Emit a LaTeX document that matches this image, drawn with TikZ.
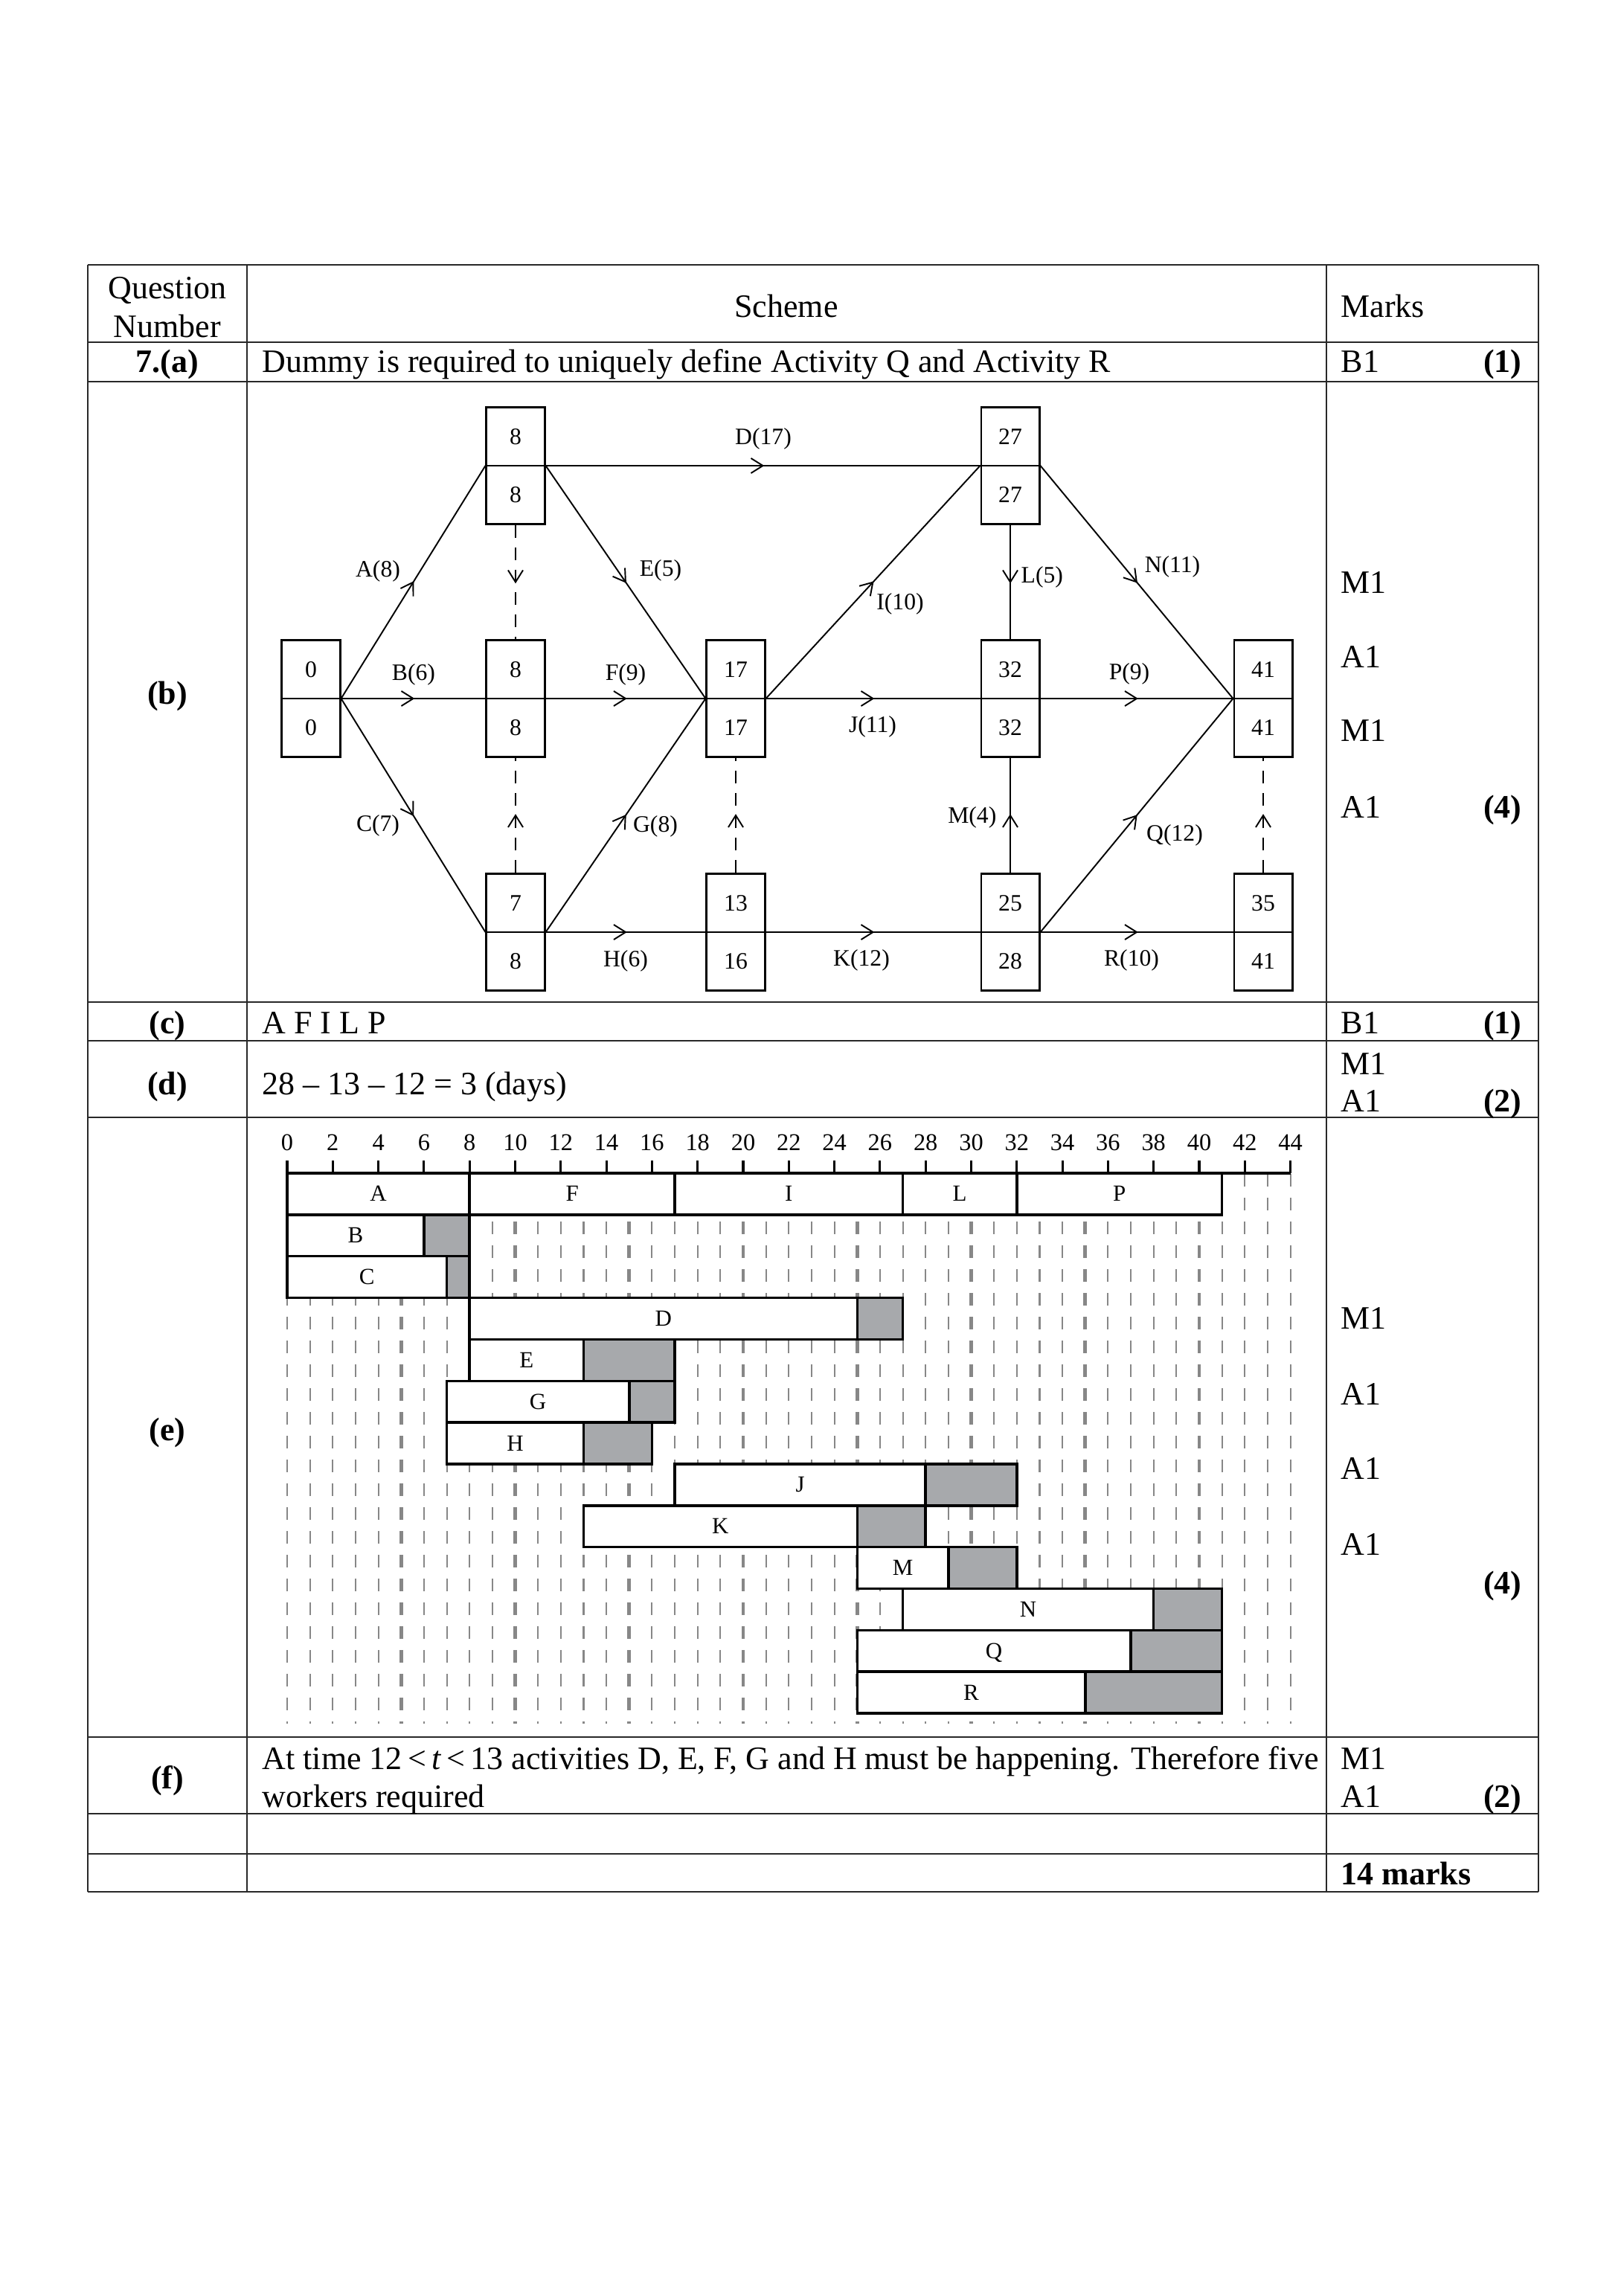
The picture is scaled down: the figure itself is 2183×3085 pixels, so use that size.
\documentclass[tikz,border=0pt]{standalone}
\usepackage{fontspec}
\setmainfont{Liberation Serif}
\usetikzlibrary{decorations.markings}
\definecolor{ganttgray}{RGB}{167,169,172}
\definecolor{gridgray}{RGB}{135,135,135}
\definecolor{inkgray}{RGB}{40,40,40}

% event box: name, x, y (centre), top number, bottom number
\newcommand{\evbox}[5]{%
  \node[evbox] (#1) at (#2,#3) {};
  \draw[hact] (#1.west) -- (#1.east);
  \node[evnum] (#1t) at (#2,{#3-39}) {#4};
  \node[evnum] (#1b) at (#2,{#3+39}) {#5};
}
% gantt bar: row, start, end, float end, label
\newcommand{\gbar}[5]{%
  \filldraw[barline,fill=white] ({386+30.65*#2},{1577+55.85*#1}) rectangle ({386+30.65*#3},{1577+55.85*(#1+1)});
  \filldraw[barline,fill=ganttgray] ({386+30.65*#3},{1577+55.85*#1}) rectangle ({386+30.65*#4},{1577+55.85*(#1+1)});
  \node[glab] (g#5) at ({386+30.65*(#2+#3)/2},{1577+55.85*(#1+0.5)+10}) {#5};
}

\begin{document}
\begin{tikzpicture}[x=0.01cm,y=-0.01cm,
  tabline/.style={line width=0.7pt,draw=inkgray},
  ttxt/.style={inner sep=0pt,font=\fontsize{12.5}{15}\selectfont},
  tbold/.style={inner sep=0pt,font=\fontsize{12.5}{15}\selectfont\bfseries},
  evbox/.style={draw,line width=0.85pt,minimum width=0.78cm,minimum height=1.56cm,inner sep=0pt},
  evnum/.style={inner sep=0pt,font=\fontsize{9}{10}\selectfont},
  elab/.style={inner sep=0pt,font=\fontsize{9}{10}\selectfont},
  act/.style={line width=0.55pt},
  hact/.style={line width=0.8pt},
  dummy/.style={line width=0.55pt,dash pattern=on 0.17cm off 0.13cm},
  midarrow/.style={postaction={decorate},decoration={markings,mark=at position #1 with {\draw[solid,line width=0.55pt] (-0.16cm,0.1cm) -- (0,0) -- (-0.16cm,-0.1cm);}}},
  midarrow/.default=0.5,
  barline/.style={line width=1pt,draw=black},
  glab/.style={inner sep=0pt,font=\fontsize{8.8}{10}\selectfont,anchor=base},
  gtick/.style={inner sep=0pt,font=\fontsize{9.2}{10}\selectfont,anchor=base},
  gridthin/.style={draw=gridgray,line width=0.6pt,dash pattern=on 0.17cm off 0.15cm},
  gridthick/.style={draw=gridgray,line width=1.3pt,dash pattern=on 0.17cm off 0.15cm},
]
\fill[white] (0,0) rectangle (2183,3085);
\useasboundingbox (0,0) rectangle (2183,3085);

% ---------------- table ----------------
\foreach \yy in {356,460,513,1347,1399,1502,2335,2438,2492,2543}
  \draw[tabline] (118,\yy) -- (2068,\yy);
\foreach \xx in {118,332,1783,2068}
  \draw[tabline] (\xx,356) -- (\xx,2543);

% header
\node[ttxt,anchor=base] (hq1) at (225,402) {Question};
\node[ttxt,anchor=base] (hq2) at (225,453) {Number};
\node[ttxt,anchor=base] (hs) at (1057,426) {Scheme};
\node[ttxt,anchor=base west] (hm) at (1802,426) {Marks};

% (a)
\node[tbold,anchor=base] (qa) at (225,501) {7.(a)};
\node[ttxt,anchor=base west] (sa) at (352,501) {Dummy is required to uniquely define Activity Q and Activity R};
\node[ttxt,anchor=base west] (ma) at (1802,501) {B1};
\node[tbold,anchor=base east] (ta) at (2046,501) {(1)};

% (b)
\node[tbold,anchor=base] (qb) at (225,946) {(b)};
\node[ttxt,anchor=base west] (mb1) at (1802,797) {M1};
\node[ttxt,anchor=base west] (mb2) at (1802,897) {A1};
\node[ttxt,anchor=base west] (mb3) at (1802,996) {M1};
\node[ttxt,anchor=base west] (mb4) at (1802,1099) {A1};
\node[tbold,anchor=base east] (tb) at (2046,1099) {(4)};

% (c)
\node[tbold,anchor=base] (qc) at (225,1389) {(c)};
\node[ttxt,anchor=base west] (sc) at (352,1389) {A F I L P};
\node[ttxt,anchor=base west] (mc) at (1802,1389) {B1};
\node[tbold,anchor=base east] (tc) at (2046,1389) {(1)};

% (d)
\node[tbold,anchor=base] (qd) at (225,1471) {(d)};
\node[ttxt,anchor=base west] (sd) at (352,1471) {28 – 13 – 12 = 3 (days)};
\node[ttxt,anchor=base west] (md1) at (1802,1444) {M1};
\node[ttxt,anchor=base west] (md2) at (1802,1494) {A1};
\node[tbold,anchor=base east] (td) at (2046,1494) {(2)};

% (e)
\node[tbold,anchor=base] (qe) at (225,1936) {(e)};
\node[ttxt,anchor=base west] (me1) at (1802,1786) {M1};
\node[ttxt,anchor=base west] (me2) at (1802,1888) {A1};
\node[ttxt,anchor=base west] (me3) at (1802,1988) {A1};
\node[ttxt,anchor=base west] (me4) at (1802,2090) {A1};
\node[tbold,anchor=base east] (te) at (2046,2142) {(4)};

% (f)
\node[tbold,anchor=base] (qf) at (225,2404) {(f)};
\node[ttxt,anchor=base west] (sf1) at (352,2378) {At time 12\,<\,\textit{t}\,<\,13 activities D, E, F, G and H must be happening. Therefore five};
\node[ttxt,anchor=base west] (sf2) at (352,2429) {workers required};
\node[ttxt,anchor=base west] (mf1) at (1802,2378) {M1};
\node[ttxt,anchor=base west] (mf2) at (1802,2429) {A1};
\node[tbold,anchor=base east] (tf) at (2046,2429) {(2)};

% total
\node[tbold,anchor=base west] (tot) at (1802,2533) {14 marks};

% ---------------- network (b) ----------------
\evbox{e0}{418}{939}{0}{0}
\evbox{e8a}{693}{626}{8}{8}
\evbox{e8b}{693}{939}{8}{8}
\evbox{e7}{693}{1253}{7}{8}
\evbox{e17}{989}{939}{17}{17}
\evbox{e13}{989}{1253}{13}{16}
\evbox{e27}{1358}{626}{27}{27}
\evbox{e32}{1358}{939}{32}{32}
\evbox{e25}{1358}{1253}{25}{28}
\evbox{e41}{1698}{939}{41}{41}
\evbox{e35}{1698}{1253}{35}{41}

\draw[act,midarrow] (e0.east) -- (e8a.west);
\draw[hact,midarrow] (e0.east) -- (e8b.west);
\draw[act,midarrow] (e0.east) -- (e7.west);
\draw[hact,midarrow] (e8a.east) -- (e27.west);
\draw[act,midarrow] (e8a.east) -- (e17.west);
\draw[hact,midarrow] (e8b.east) -- (e17.west);
\draw[act,midarrow] (e7.east) -- (e17.west);
\draw[hact,midarrow] (e7.east) -- (e13.west);
\draw[act,midarrow] (e17.east) -- (e27.west);
\draw[hact,midarrow] (e17.east) -- (e32.west);
\draw[hact,midarrow] (e13.east) -- (e25.west);
\draw[act,midarrow] (e27.south) -- (e32.north);
\draw[act,midarrow] (e25.north) -- (e32.south);
\draw[act,midarrow] (e27.east) -- (e41.west);
\draw[hact,midarrow] (e32.east) -- (e41.west);
\draw[act,midarrow] (e25.east) -- (e41.west);
\draw[hact,midarrow] (e25.east) -- (e35.west);
\draw[dummy,midarrow] (e8a.south) -- (e8b.north);
\draw[dummy,midarrow] (e7.north) -- (e8b.south);
\draw[dummy,midarrow] (e13.north) -- (e17.south);
\draw[dummy,midarrow] (e35.north) -- (e41.south);

\node[elab] (lA) at (508,768) {A(8)};
\node[elab] (lB) at (556,907) {B(6)};
\node[elab] (lC) at (508,1110) {C(7)};
\node[elab] (lD) at (1026,590) {D(17)};
\node[elab] (lE) at (888,767) {E(5)};
\node[elab] (lF) at (841,907) {F(9)};
\node[elab] (lG) at (881,1111) {G(8)};
\node[elab] (lH) at (841,1292) {H(6)};
\node[elab] (lI) at (1210,812) {I(10)};
\node[elab] (lJ) at (1173,977) {J(11)};
\node[elab] (lK) at (1158,1291) {K(12)};
\node[elab,anchor=west] (lL) at (1372,776) {L(5)};
\node[elab] (lN) at (1576,762) {N(11)};
\node[elab] (lP) at (1518,906) {P(9)};
\node[elab,anchor=east] (lM) at (1340,1099) {M(4)};
\node[elab] (lQ) at (1579,1123) {Q(12)};
\node[elab] (lR) at (1521,1291) {R(10)};

% ---------------- gantt (e) ----------------
\foreach \i in {0,...,44}
  \draw[gridthin] ({386+30.65*\i},1578) -- ({386+30.65*\i},2317);
\foreach \i in {5,10,...,40}
  \draw[gridthick] ({386+30.65*\i},1578) -- ({386+30.65*\i},2317);

\draw[line width=0.9pt] (386,1577) -- ({386+30.65*44},1577);
\foreach \i in {0,2,...,44} {
  \draw[line width=0.9pt] ({386+30.65*\i},1560) -- ({386+30.65*\i},1577);
  \node[gtick] (tk\i) at ({386+30.65*\i},1546) {\i};
}

% critical row
\filldraw[barline,fill=white] (386,1577) rectangle ({386+30.65*41},{1577+55.85});
\foreach \t in {8,17,27,32}
  \draw[barline] ({386+30.65*\t},1577) -- ({386+30.65*\t},{1577+55.85});
\node[glab] (gA) at ({386+30.65*4},{1577+55.85*0.5+10}) {A};
\node[glab] (gF) at ({386+30.65*12.5},{1577+55.85*0.5+10}) {F};
\node[glab] (gI) at ({386+30.65*22},{1577+55.85*0.5+10}) {I};
\node[glab] (gL) at ({386+30.65*29.5},{1577+55.85*0.5+10}) {L};
\node[glab] (gP) at ({386+30.65*36.5},{1577+55.85*0.5+10}) {P};

\gbar{1}{0}{6}{8}{B}
\gbar{2}{0}{7}{8}{C}
\gbar{3}{8}{25}{27}{D}
\gbar{4}{8}{13}{17}{E}
\gbar{5}{7}{15}{17}{G}
\gbar{6}{7}{13}{16}{H}
\gbar{7}{17}{28}{32}{J}
\gbar{8}{13}{25}{28}{K}
\gbar{9}{25}{29}{32}{M}
\gbar{10}{27}{38}{41}{N}
\gbar{11}{25}{37}{41}{Q}
\gbar{12}{25}{35}{41}{R}

\end{tikzpicture}
\end{document}
